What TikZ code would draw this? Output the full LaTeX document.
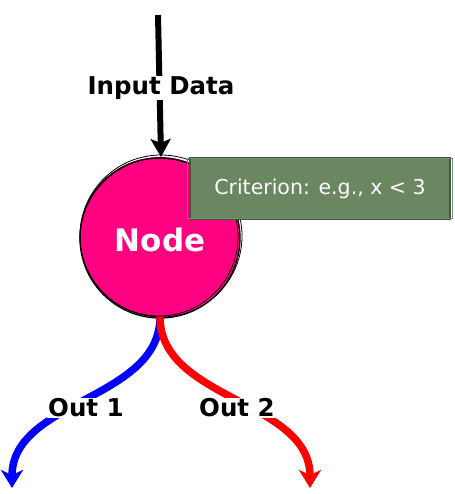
\documentclass[tikz,border=0pt]{standalone}
\usepackage{fontspec}
\setmainfont{DejaVu Sans}
\usetikzlibrary{arrows.meta}
\definecolor{nodepink}{HTML}{FF0080}
\definecolor{critgreen}{HTML}{6B8762}
\definecolor{critedge}{HTML}{3E5A36}
\tikzset{
  lbl/.style={font=\bfseries\fontsize{24.5}{27}\selectfont, fill=white, inner sep=1pt, text=black},
  flow/.style={line width=7.5pt, -{Stealth[length=18pt,width=22pt,inset=5pt]}},
}
\begin{document}
\begin{tikzpicture}[x=1pt,y=-1pt]
\useasboundingbox (0,0) rectangle (454,494);
% node circle
\fill[nodepink] (160,237) circle (80);
\draw[line width=1.3pt] (160,238) circle (80);
\draw[line width=0.8pt] (161,236) circle (81);
\draw[line width=0.7pt] (159,237) circle (79);
\node[font=\bfseries\fontsize{31}{33}\selectfont, text=white] (nd) at (160,240) {Node};
\coordinate (top) at (161,157);
\coordinate (bot) at (160,317);
% criterion box
\node[draw=critedge, line width=1.5pt, fill=critgreen, minimum width=260pt, minimum height=62pt,
      text=white, font=\fontsize{20.5}{22}\selectfont] (crit) at (320,188.5) {Criterion: e.g., x < 3};
\draw[critedge!70, line width=0.7pt] ([shift={(-2,2)}]crit.north west) rectangle ([shift={(2,-2)}]crit.south east);
% input
\coordinate (in0) at (158,15);
\draw[line width=6pt, -{Stealth[length=18pt,width=20pt,inset=4pt]}] (in0) -- (top);
\node[lbl] (inlbl) at (161,88) {Input Data};
% outputs
\coordinate (e1) at (12,488);
\coordinate (e2) at (310,488);
\draw[flow, blue] (bot) .. controls (160,400) and (12,400) .. (e1);
\draw[flow, red] (bot) .. controls (160,400) and (310,400) .. (e2);
\node[lbl] (o1) at (86,408) {Out 1};
\node[lbl] (o2) at (237,408) {Out 2};
\end{tikzpicture}
\end{document}
